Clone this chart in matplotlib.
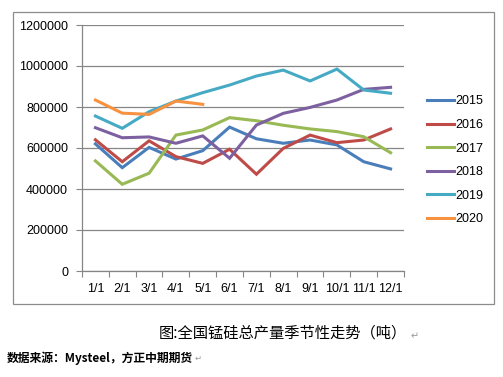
import matplotlib
matplotlib.use("Agg")
import matplotlib.pyplot as plt
from matplotlib.patches import Rectangle

months = ["1/1", "2/1", "3/1", "4/1", "5/1", "6/1", "7/1", "8/1", "9/1", "10/1", "11/1", "12/1"]
y2015 = [620000, 504000, 603000, 546000, 587000, 702000, 645000, 623000, 639000, 615000, 533000, 498000]
y2016 = [640000, 533000, 635000, 558000, 525000, 594000, 472000, 598000, 663000, 626000, 639000, 693000]
y2017 = [537000, 423000, 477000, 663000, 688000, 748000, 733000, 711000, 693000, 680000, 655000, 577000]
y2018 = [699000, 650000, 654000, 623000, 659000, 550000, 712000, 769000, 798000, 834000, 886000, 896000]
y2019 = [756000, 696000, 777000, 829000, 870000, 907000, 951000, 980000, 927000, 985000, 883000, 867000]
y2020 = [834000, 770000, 764000, 829000, 813000]
series = [("2015", y2015, "#4A7EBB"), ("2016", y2016, "#BE4B48"), ("2017", y2017, "#98B954"),
          ("2018", y2018, "#7D60A0"), ("2019", y2019, "#46AAC5"), ("2020", y2020, "#F69240")]
yticks = [0, 200000, 400000, 600000, 800000, 1000000, 1200000]

W, H = 503, 377
fig = plt.figure(figsize=(W / 100, H / 100), dpi=100)
fig.patch.set_facecolor("white")

# chart border
fig.patches.append(Rectangle((13 / W, 1 - 304 / H), (494 - 13) / W, (304 - 12) / H,
                             transform=fig.transFigure, fill=False, edgecolor="#8c8c8c", lw=0.9))

ax = fig.add_axes([82 / W, 1 - 271 / H, 322 / W, 246 / H])
x = list(range(len(months)))
for name, vals, col in series:
    ax.plot(x[:len(vals)], vals, color=col, lw=2.2, label=name, solid_joinstyle="miter")

ax.set_xlim(-0.5, 11.5)
ax.set_ylim(0, 1200000)
ax.set_yticks(yticks)
ax.set_yticklabels([str(v) for v in yticks], fontfamily="Liberation Sans", fontsize=9)
ax.yaxis.grid(True, color="#868686", lw=0.9)
ax.set_axisbelow(True)
ax.set_xticks([i + 0.5 for i in range(-1, 12)], minor=False)
ax.set_xticklabels([])
ax.set_xticks(x, minor=True)
ax.set_xticklabels(months, minor=True, fontfamily="Liberation Sans", fontsize=9)
ax.tick_params(axis="x", which="major", length=4, color="#868686", direction="out")
ax.tick_params(axis="x", which="minor", length=0, pad=9)
ax.tick_params(axis="y", length=4, color="#868686", direction="out", pad=6)
for s in ["top", "right"]:
    ax.spines[s].set_visible(False)
for s in ["left", "bottom"]:
    ax.spines[s].set_color("#868686")
    ax.spines[s].set_linewidth(0.9)

leg = ax.legend(loc="upper left", bbox_to_anchor=(416 / W, 1 - 84 / H), bbox_transform=fig.transFigure,
                frameon=False, prop={"family": "Liberation Sans", "size": 9},
                handlelength=2.1, handletextpad=0.15, labelspacing=0.93)

fig.text(283 / W, 1 - 333 / H, "图:全国锰硅总产量季节性走势（吨）", ha="center", va="center",
         fontsize=11, family=["Noto Sans CJK SC", "DejaVu Sans"])
fig.text(411 / W, 1 - 336 / H, "↵", ha="left", va="center", fontsize=7, color="#999999",
         family=["DejaVu Sans"])
fig.text(7 / W, 1 - 358 / H, "数据来源：Mysteel，方正中期期货", ha="left", va="center",
         fontsize=8.5, style="italic", fontweight="bold", family=["Noto Sans CJK SC", "DejaVu Sans"])
fig.text(195 / W, 1 - 358 / H, "↵", ha="left", va="center", fontsize=6, color="#999999",
         family=["DejaVu Sans"])

fig.savefig("out.png", dpi=100, facecolor="white")
